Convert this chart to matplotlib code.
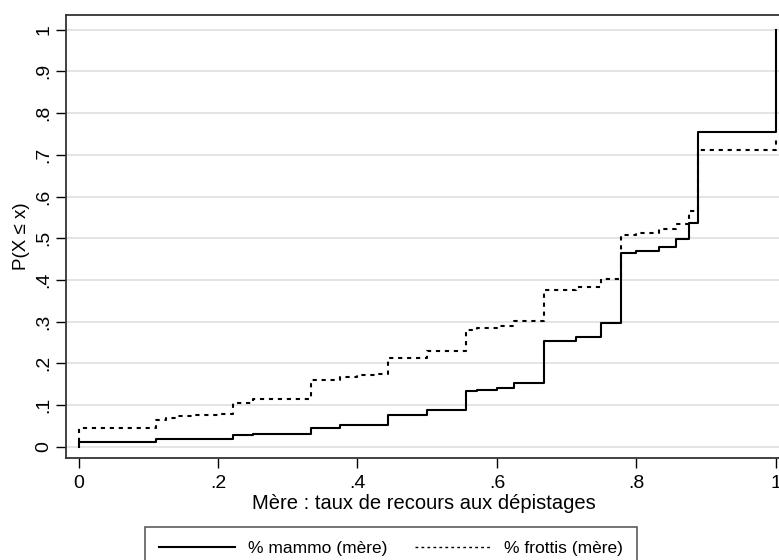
import matplotlib
matplotlib.use("Agg")
import matplotlib.pyplot as plt

plt.rcParams['font.family'] = ['Liberation Sans', 'DejaVu Sans']

# cumulative distribution (value reached at each x)
mammo_x = [0, 0, 0.111, 0.222, 0.25, 0.333, 0.375, 0.444, 0.5, 0.556, 0.571, 0.6,
           0.625, 0.667, 0.714, 0.75, 0.778, 0.8, 0.833, 0.857, 0.875, 0.889, 1.0, 1.0]
mammo_F = [0.0, 0.011, 0.018, 0.028, 0.031, 0.046, 0.052, 0.077, 0.088, 0.133, 0.136, 0.14,
           0.152, 0.253, 0.264, 0.296, 0.465, 0.469, 0.48, 0.498, 0.536, 0.755, 0.755, 1.0]

frottis_x = [0, 0, 0.111, 0.125, 0.143, 0.167, 0.2, 0.222, 0.25, 0.333, 0.375, 0.4, 0.429,
             0.444, 0.5, 0.556, 0.571, 0.6, 0.625, 0.667, 0.714, 0.75, 0.778, 0.8, 0.833,
             0.857, 0.875, 0.889, 1.0, 1.0]
frottis_F = [0.012, 0.044, 0.064, 0.07, 0.073, 0.076, 0.079, 0.104, 0.115, 0.16, 0.168, 0.171,
             0.175, 0.212, 0.23, 0.279, 0.285, 0.29, 0.301, 0.375, 0.383, 0.401, 0.507, 0.513,
             0.522, 0.535, 0.565, 0.712, 0.712, 0.745]

yticks = [0, .1, .2, .3, .4, .5, .6, .7, .8, .9, 1]
ytick_labels = ["0", ".1", ".2", ".3", ".4", ".5", ".6", ".7", ".8", ".9", "1"]
xticks = [0, .2, .4, .6, .8, 1]
xtick_labels = ["0", ".2", ".4", ".6", ".8", "1"]

fig = plt.figure(figsize=(7.79, 5.6), dpi=100)
ax = fig.add_axes([66 / 779, 1 - 458 / 560, 715 / 779, 443 / 560])

ax.plot(mammo_x, mammo_F, drawstyle='steps-post', color='black', lw=1.5,
        label='% mammo (mère)')
ax.plot(frottis_x, frottis_F, drawstyle='steps-post', color='black', lw=1.5,
        linestyle=(0, (2, 2.3)), label='% frottis (mère)')

ax.set_xlim(-0.0182, 1.0076)
ax.set_ylim(-0.0271, 1.0353)
ax.set_yticks(yticks)
ax.set_yticklabels(ytick_labels, rotation=90, va='center')
ax.set_xticks(xticks)
ax.set_xticklabels(xtick_labels)
ax.tick_params(labelsize=14, length=7, width=1, color='black', direction='out')
ax.tick_params(axis='y', pad=3)
ax.tick_params(axis='x', pad=5)
ax.yaxis.grid(True, color='#e2e2e2', lw=1.3)
ax.set_axisbelow(True)
for s in ['left', 'bottom', 'top']:
    ax.spines[s].set_color('#333333')
    ax.spines[s].set_linewidth(1.3)
ax.spines['right'].set_visible(False)

ax.set_xlabel('Mère : taux de recours aux dépistages', fontsize=14.5, labelpad=2)
ax.set_ylabel('P(X ≤ x)', fontsize=13.5, labelpad=4)

leg = fig.legend(loc='upper left', bbox_to_anchor=(145 / 779, -0.1, 492 / 779, 0.1 + 33 / 560),
                 mode='expand', ncol=2, fontsize=12.5, frameon=True, fancybox=False,
                 borderaxespad=0, handlelength=4.4, handletextpad=0.75, borderpad=0.8)
leg.get_frame().set_edgecolor('#333333')
leg.get_frame().set_linewidth(1.2)
leg.get_lines()[1].set_linewidth(1.0)

fig.savefig('out.png', dpi=100)
